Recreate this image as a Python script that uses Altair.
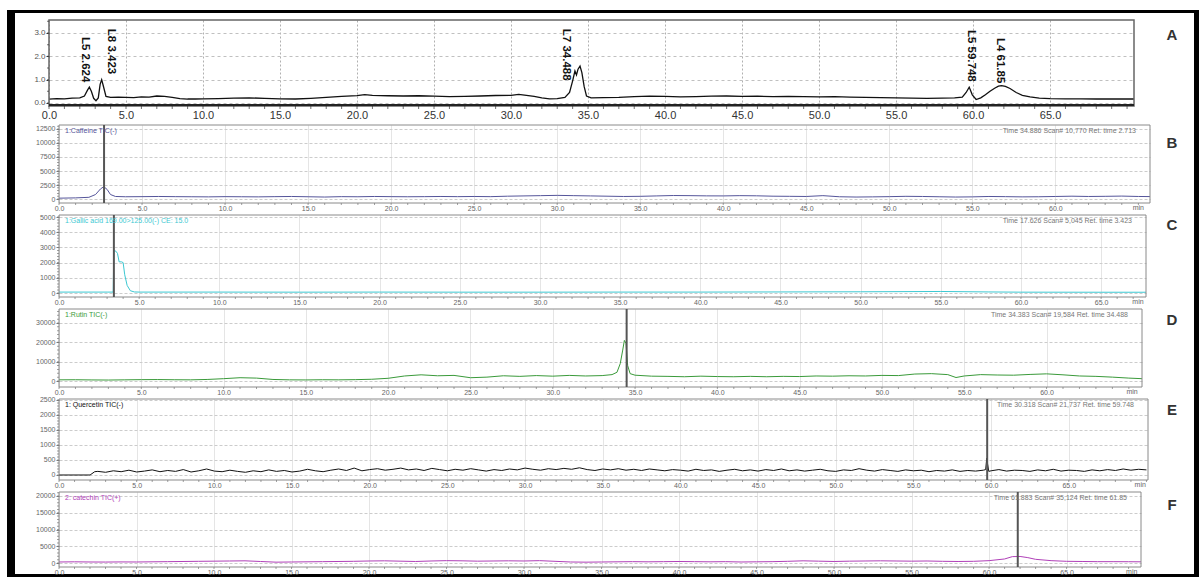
import altair as alt
import pandas as pd

FONT = "Liberation Sans"

# ---------------- Panel A : overlay chromatogram ----------------
a_time = ([0, 0.5, 1, 1.5, 2]
          + [2.3, 2.5, 2.62, 2.75, 2.9, 3.05, 3.2, 3.32, 3.42, 3.52, 3.7]
          + [4, 4.5, 5, 5.5, 6, 6.5, 7, 7.5, 8, 8.5, 9, 9.5, 10]
          + [11, 12, 13, 14, 15, 16, 17, 18, 19, 20]
          + [20.5]
          + [21, 22, 23, 24, 25, 26, 27, 28, 29, 30]
          + [30.5, 31, 31.5, 32, 32.5, 33, 33.5]
          + [33.8, 34.0, 34.15, 34.25, 34.35, 34.48, 34.6, 34.75, 34.9, 35.2]
          + [36, 37, 38, 39, 40, 41, 42, 43, 44, 45, 46, 47, 48, 49, 50, 51, 52, 53, 54, 55, 56, 57, 58]
          + [58.8, 59.3, 59.55, 59.75, 59.95, 60.2, 60.5, 60.8, 61.1, 61.4, 61.65, 61.85, 62.1, 62.4,
             62.8, 63.2, 63.7, 64.3]
          + [65, 66, 67, 68, 69, 70, 70.45])
a_signal = ([0.17, 0.19, 0.18, 0.21, 0.22]
            + [0.30, 0.55, 0.68, 0.50, 0.20, 0.10, 0.22, 0.80, 1.00, 0.75, 0.28]
            + [0.24, 0.25, 0.24, 0.23, 0.26, 0.25, 0.30, 0.28, 0.24, 0.19, 0.17, 0.17, 0.18]
            + [0.19, 0.21, 0.22, 0.20, 0.18, 0.17, 0.20, 0.24, 0.28, 0.32]
            + [0.36]
            + [0.33, 0.31, 0.30, 0.31, 0.29, 0.27, 0.28, 0.30, 0.32, 0.33]
            + [0.37, 0.33, 0.28, 0.22, 0.18, 0.19, 0.24]
            + [0.45, 0.95, 1.37, 1.20, 1.45, 1.58, 1.30, 0.70, 0.30, 0.22]
            + [0.23, 0.24, 0.27, 0.29, 0.28, 0.26, 0.27, 0.29, 0.30, 0.28, 0.29, 0.27, 0.28, 0.27,
               0.26, 0.27, 0.25, 0.24, 0.23, 0.22, 0.21, 0.20, 0.21]
            + [0.22, 0.25, 0.45, 0.68, 0.35, 0.15, 0.22, 0.35, 0.50, 0.63, 0.72, 0.74, 0.71, 0.62,
               0.45, 0.33, 0.26, 0.21]
            + [0.19, 0.18, 0.18, 0.17, 0.17, 0.17, 0.17])
a_peak_labels = ["L5 2.624", "L8 3.423", "L7 34.488", "L5 59.748", "L4 61.85"]
a_label_time = [2.35, 4.05, 33.55, 59.85, 61.75]
a_label_top = [2.83, 3.18, 3.18, 3.13, 2.79]
a_xticks = [0, 5, 10, 15, 20, 25, 30, 35, 40, 45, 50, 55, 60, 65]
a_yticks = [0, 1, 2, 3]

# ---------------- Panel B : Caffeine TIC ----------------
b_time = [0, 1, 1.8, 2.2, 2.5, 2.7, 2.9, 3.1, 3.4] + list(range(4, 66)) + [65.7]
b_signal = ([150, 200, 300, 800, 1800, 2200, 1700, 800, 450]
            + [400, 420, 450, 420, 400, 380, 420, 400, 380, 420,
               450, 400, 350, 420, 400, 450, 420, 400, 420, 450,
               420, 450, 420, 500, 550, 600, 650, 600, 550, 500,
               450, 480, 550, 620, 600, 560, 550, 600, 570, 500,
               480, 450, 600, 400, 350, 380, 420, 480, 450, 400,
               350, 380, 450, 420, 380, 400, 450, 500, 450, 480,
               520, 450]
            + [430])

# ---------------- Panel C : MRM trace ----------------
c_time = [0, 1, 2, 3, 3.38, 3.42, 3.55, 3.65, 3.75, 3.9, 4.0, 4.1, 4.25, 4.45, 4.7, 5,
          10, 15, 20, 25, 30, 35, 40, 45, 50, 55, 58, 60, 65, 67.8]
c_signal = [60, 60, 60, 60, 60, 2800, 2750, 2600, 2050, 2050, 2000, 1200, 500, 150, 70, 60,
            60, 55, 60, 55, 55, 60, 60, 70, 80, 100, 70, 55, 50, 50]

# ---------------- Panel D : Rutin TIC ----------------
d_time = (list(range(0, 34)) + [33.6, 33.9, 34.1, 34.25, 34.35, 34.45, 34.55, 34.7, 35]
          + list(range(36, 55)) + [54.5] + list(range(55, 66)) + [65.8])
d_signal = ([600, 650, 550, 500, 600, 700, 750, 650, 600, 800,
             1200, 1700, 1500, 800, 600, 550, 650, 600, 700, 900,
             1400, 2600, 3200, 2700, 2900, 1700, 2000, 2700, 2400, 2800,
             2500, 2900, 2600, 2800]
            + [3300, 4500, 9000, 16000, 21000, 19500, 8000, 3800, 3000]
            + [2500, 2400, 2200, 2500, 2300, 2200, 2400, 2200, 2400, 2300,
               2600, 2500, 2700, 2600, 2900, 2800, 3600, 3800, 3300]
            + [1800]
            + [2600, 3300, 3100, 3000, 3400, 3700, 3200, 2600, 2400, 2000, 1500]
            + [1200])

# ---------------- Panel E : Quercetin TIC ----------------
e_time_start = [0, 2.0, 2.3]
e_signal_start = [0, 0, 110]
e_time_grid = [2.5 + 0.5 * i for i in range(136)]
e_signal_grid = [120, 90, 140, 110, 160, 100, 130, 170, 110, 150,
                 120, 180, 100, 140, 200, 130, 110, 160, 120, 90,
                 140, 110, 170, 120, 150, 100, 130, 190, 140, 110,
                 160, 200, 150, 230, 140, 180, 210, 160, 190, 230,
                 170, 200, 150, 220, 180, 140, 190, 160, 210, 170,
                 130, 180, 150, 200, 170, 230, 190, 160, 210, 180,
                 220, 190, 240, 180, 150, 200, 170, 210, 160, 190,
                 150, 200, 170, 140, 180, 160, 130, 190, 150, 170,
                 120, 160, 190, 140, 170, 130, 180, 150, 200, 140,
                 170, 130, 160, 190, 140, 120, 170, 150, 210, 160,
                 130, 180, 150, 120, 170, 140, 160, 110, 150, 130,
                 170, 120, 150, 130, 160, 140, 180, 130, 160, 150,
                 120, 170, 140, 190, 130, 160, 150, 120, 170, 140,
                 180, 150, 200, 160, 190, 170]
e_time_spike = [59.65, 59.72, 59.78, 59.85]
e_signal_spike = [180, 560, 350, 120]

# ---------------- Panel F : Catechin TIC ----------------
f_time = list(range(0, 62)) + [61.5, 62, 62.5] + list(range(63, 70)) + [69.8]
f_signal = ([300, 350, 300, 280, 320, 300, 350, 400, 450, 500,
             550, 600, 650, 450, 250, 300, 350, 400, 450, 500,
             600, 650, 550, 450, 600, 700, 650, 550, 600, 650,
             600, 700, 500, 300, 250, 300, 350, 400, 350, 400,
             450, 400, 350, 400, 300, 350, 400, 500, 650, 550,
             450, 550, 600, 650, 600, 550, 600, 500, 450, 500,
             700, 1200]
            + [1900, 1950, 1600]
            + [1100, 700, 500, 450, 400, 400, 380]
            + [350])

# ---------------- panel texts ----------------
panel_letters = ["A", "B", "C", "D", "E", "F"]
letter_y = [15, 18, 10, 11, 11, 13]
trace_titles = ["", "1:Caffeine TIC(-)", "1:Gallic acid 169.00>125.00(-) CE: 15.0",
                "1:Rutin TIC(-)", "1: Quercetin TIC(-)", "2: catechin TIC(+)"]
info_texts = ["",
              "Time  34.886     Scan#  10,770      Ret. time  2.713",
              "Time  17.626     Scan#  5,045       Ret. time  3.423",
              "Time  34.383     Scan#  19,584      Ret. time  34.488",
              "Time  30.318     Scan#  21,737      Ret. time  59.748",
              "Time  61.883     Scan#  35,124      Ret. time  61.85"]
cursor_times = [None, 2.713, 3.423, 34.488, 59.748, 61.85]
min_label_pos = [None, 65.0, 67.3, 65.2, 69.6, 69.2]

one = pd.DataFrame({"k": [0]})


def text_at(txt, x, y, **kw):
    return alt.Chart(pd.DataFrame({"s": [txt]})).mark_text(font=FONT, **kw).encode(
        text="s:N", x=alt.value(x), y=alt.value(y))


def panel(cfg):
    W, H, x0 = cfg["W"], cfg["H"], cfg["x0"]
    xs = alt.Scale(domain=[0, cfg["xmax"]], range=[x0, W], nice=False, zero=False)
    ys = alt.Scale(domain=cfg["ydom"], nice=False, zero=False)
    xaxis = alt.Axis(values=cfg["xmajor"], format=".1f", title=None, ticks=False, domain=False,
                     labelFont=FONT, labelFontSize=cfg["xl_size"], labelColor=cfg["xl_color"],
                     labelPadding=cfg["xl_pad"], labelFlush=False, labelOverlap=False,
                     grid=True, gridColor=cfg["xgrid_color"], gridDash=cfg["xgrid_dash"],
                     gridWidth=1)
    yaxis = alt.Axis(values=cfg["ymajor"], format=cfg["yfmt"], title=None, ticks=True,
                     tickSize=3, tickColor=cfg["tick_color"], domain=False,
                     labelFont=FONT, labelFontSize=cfg["yl_size"], labelColor=cfg["yl_color"],
                     labelPadding=1, labelFlush=False, labelOverlap=False, offset=-x0,
                     grid=True, gridColor=cfg["ygrid_color"], gridDash=cfg["ygrid_dash"],
                     gridWidth=1)
    X = lambda: alt.X("t:Q", scale=xs, axis=xaxis)
    Y = lambda: alt.Y("v:Q", scale=ys, axis=yaxis)
    df = pd.DataFrame({"t": cfg["t"], "v": cfg["v"]})
    layers = []
    layers.append(alt.Chart(df).mark_line(color=cfg["color"], strokeWidth=cfg["lw"]).encode(
        x=X(), y=Y()))
    layers.append(alt.Chart(one).mark_rect(fill="transparent", stroke=cfg["frame_color"],
                                           strokeWidth=cfg["frame_w"]).encode(
        x=alt.value(x0), x2=alt.value(W), y=alt.value(0), y2=alt.value(H)))
    layers.append(alt.Chart(pd.DataFrame({"t": cfg["xminor"]})).mark_tick(
        color=cfg["tick_color"], size=cfg["xtick_len"], thickness=1).encode(
        x=X(), y=alt.value(H + cfg["xtick_len"] / 2)))
    layers.append(alt.Chart(pd.DataFrame({"v": cfg["yminor"]})).mark_tick(
        color=cfg["tick_color"], size=2, thickness=1).encode(
        y=Y(), x=alt.value(x0 - 1)))
    if cfg.get("cursor") is not None:
        layers.append(alt.Chart(pd.DataFrame({"t": [cfg["cursor"]]})).mark_rule(
            color="#555555", strokeWidth=2).encode(
            x=X(), y=alt.value(0), y2=alt.value(H)))
    if cfg.get("minpos") is not None:
        layers.append(alt.Chart(pd.DataFrame({"t": [cfg["minpos"]], "s": ["min"]})).mark_text(
            font=FONT, fontSize=cfg["xl_size"], color=cfg["xl_color"], baseline="top").encode(
            x=X(), y=alt.value(H + cfg["xl_pad"]), text="s:N"))
    if cfg.get("title"):
        layers.append(text_at(cfg["title"], x0 + 6, 2, fontSize=7, color=cfg["color"],
                              align="left", baseline="top"))
    if cfg.get("info"):
        layers.append(text_at(cfg["info"], W - 14, 2, fontSize=7, color="#777777",
                              align="right", baseline="top"))
    layers.append(text_at(cfg["letter"], 1123, cfg["letter_y"], fontSize=15, fontWeight="bold",
                          color="#333333", align="center", baseline="middle"))
    return layers, X, Y


# ---------- panel A ----------
cfgA = dict(W=1085, H=86, x0=0, xmax=70.45, ydom=[-0.129, 3.557], t=a_time, v=a_signal,
            color="#111111", lw=1.3, xmajor=a_xticks, ymajor=a_yticks, yfmt=".1f",
            xminor=list(range(0, 71)), yminor=[0, 0.5, 1, 1.5, 2, 2.5, 3, 3.5],
            xl_size=11, xl_color="#333333", xl_pad=3, yl_size=8, yl_color="#555555",
            xgrid_color="#b0b0b0", xgrid_dash=[2, 2], ygrid_color="#c0c0c0", ygrid_dash=[3, 3],
            tick_color="#333333", xtick_len=3, frame_color="#666666", frame_w=1.5,
            letter="A", letter_y=letter_y[0])
layersA, XA, YA = panel(cfgA)
# thick bottom axis line of panel A
layersA.append(alt.Chart(one).mark_rule(color="#222222", strokeWidth=2).encode(
    x=alt.value(0), x2=alt.value(1085), y=alt.value(85)))
# peak annotations
lab_df = pd.DataFrame({"t": a_label_time, "v": a_label_top, "s": a_peak_labels})
layersA.append(alt.Chart(lab_df).mark_text(font=FONT, fontSize=11.5, fontWeight="bold",
                                            angle=90, align="left", baseline="middle",
                                            color="#111111").encode(
    x=XA(), y=YA(), text="s:N"))
# page-size box and black outer border (relative to panel A origin at page 49,20)
layersA.insert(1, alt.Chart(one).mark_rect(opacity=0).encode(
    x=alt.value(-49), x2=alt.value(1150), y=alt.value(-20), y2=alt.value(557)))
for bx, bx2, by, by2 in [(-42, 1150, -10, -7), (-42, -34, -10, 557),
                         (1145, 1150, -10, 557), (-42, 1150, 554, 557)]:
    layersA.append(alt.Chart(one).mark_rect(color="#000000").encode(
        x=alt.value(bx), x2=alt.value(bx2), y=alt.value(by), y2=alt.value(by2)))
chartA = alt.layer(*layersA).properties(width=1085, height=86)

# ---------- panels B-F ----------
common = dict(x0=10, lw=1, xl_size=7, xl_color="#666666", xl_pad=1, yl_size=7,
              yl_color="#666666", xgrid_color="#dddddd", xgrid_dash=[1, 0],
              ygrid_color="#cccccc", ygrid_dash=[3, 2], tick_color="#777777", xtick_len=2,
              frame_color="#8a8a8a", frame_w=1, yfmt="d")
xmaj = [0, 5, 10, 15, 20, 25, 30, 35, 40, 45, 50, 55, 60]
xmaj65 = xmaj + [65]

cfgB = dict(common, W=1101, H=78, xmax=65.7, ydom=[-714, 13214], t=b_time, v=b_signal,
            color="#55559a", xmajor=xmaj, ymajor=[0, 2500, 5000, 7500, 10000, 12500],
            xminor=list(range(0, 66)), yminor=list(range(0, 13001, 500)),
            cursor=cursor_times[1], minpos=min_label_pos[1], title=trace_titles[1],
            info=info_texts[1], letter="B", letter_y=letter_y[1])
cfgC = dict(common, W=1097, H=82, xmax=67.8, ydom=[-263, 5132], t=c_time, v=c_signal,
            color="#3cc8d2", xmajor=xmaj65, ymajor=[0, 1000, 2000, 3000, 4000, 5000],
            xminor=list(range(0, 68)), yminor=list(range(0, 5001, 200)),
            cursor=cursor_times[2], minpos=min_label_pos[2], title=trace_titles[2],
            info=info_texts[2], letter="C", letter_y=letter_y[2])
cfgD = dict(common, W=1093, H=78, xmax=65.8, ydom=[-3103, 37241], t=d_time, v=d_signal,
            color="#3a9a3a", xmajor=xmaj, ymajor=[0, 10000, 20000, 30000],
            xminor=list(range(0, 66)), yminor=list(range(0, 36001, 2000)),
            cursor=cursor_times[3], minpos=min_label_pos[3], title=trace_titles[3],
            info=info_texts[3], letter="D", letter_y=letter_y[3])
e_df_t = e_time_start + e_time_grid + e_time_spike
e_df_v = e_signal_start + e_signal_grid + e_signal_spike
e_sorted = sorted(zip(e_df_t, e_df_v))
cfgE = dict(common, W=1099, H=81, xmax=70.1, ydom=[-167, 2533],
            t=[p[0] for p in e_sorted], v=[p[1] for p in e_sorted],
            color="#111111", xmajor=xmaj65, ymajor=[0, 500, 1000, 1500, 2000, 2500],
            xminor=list(range(0, 71)), yminor=list(range(0, 2501, 100)),
            cursor=cursor_times[4], minpos=min_label_pos[4], title=trace_titles[4],
            info=info_texts[4], letter="E", letter_y=letter_y[4])
cfgF = dict(common, W=1092, H=75, xmax=69.8, ydom=[-1194, 21194], t=f_time, v=f_signal,
            color="#b040b8", xmajor=xmaj65, ymajor=[0, 5000, 10000, 15000, 20000],
            xminor=list(range(0, 70)), yminor=list(range(0, 21001, 1000)),
            cursor=cursor_times[5], minpos=min_label_pos[5], title=trace_titles[5],
            info=info_texts[5], letter="F", letter_y=letter_y[5])

lower = []
for cfg in [cfgB, cfgC, cfgD, cfgE, cfgF]:
    lay, _, _ = panel(cfg)
    lower.append(alt.layer(*lay).properties(width=cfg["W"], height=cfg["H"]))

inner = alt.vconcat(*lower, spacing=12, bounds="flush")
chart = alt.vconcat(chartA, inner, spacing=19, bounds="flush").properties(
    padding=0, background="white").configure_view(strokeWidth=0)

chart.save("out.html", embed_options={"renderer": "svg", "actions": False})
